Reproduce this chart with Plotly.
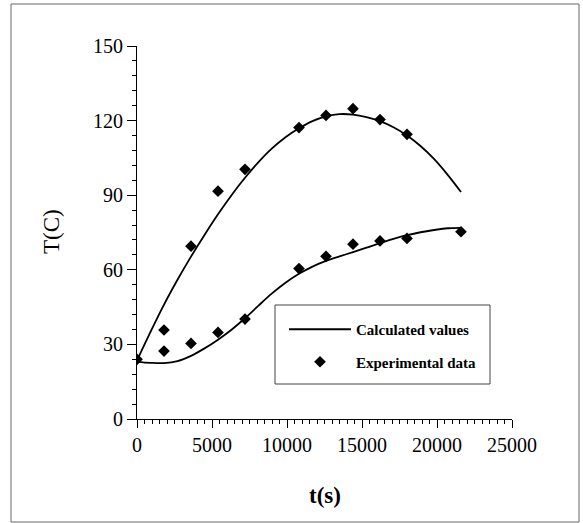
import plotly.graph_objects as go

# ---- data ----
t_calc = [0, 900, 1800, 2700, 3600, 4500, 5400, 6300, 7200, 8100, 9000, 9900,
          10800, 11700, 12600, 13500, 14400, 15300, 16200, 17100, 18000, 18900,
          19800, 20700, 21600]
upper_calc = [23.5, 35, 46, 56, 65.3, 74, 82.3, 90, 97, 103.3, 108.8, 113.3,
              116.9, 119.8, 121.7, 122.6, 122.4, 121.4, 119.8, 117.3, 114, 109.8,
              104.6, 98.3, 91.3]
lower_calc = [23, 22.6, 22.5, 23.3, 25.4, 28.4, 31.9, 35.9, 40.5, 45.6, 50.5, 54.8,
              58.4, 61.3, 63.6, 65.4, 67.1, 68.9, 70.7, 72.4, 73.9, 75.1, 76.0,
              76.7, 76.9]

t_exp_upper = [0, 1800, 3600, 5400, 7200, 10800, 12600, 14400, 16200, 18000]
upper_exp = [24, 35.8, 69.5, 91.6, 100.4, 117.2, 122.1, 124.8, 120.4, 114.5]
t_exp_lower = [1800, 3600, 5400, 7200, 10800, 12600, 14400, 16200, 18000, 21600]
lower_exp = [27.3, 30.4, 34.8, 40.2, 60.5, 65.4, 70.3, 71.6, 72.6, 75.3]

x_ticks = [0, 5000, 10000, 15000, 20000, 25000]
y_ticks = [0, 30, 60, 90, 120, 150]

FONT = "Liberation Serif"
L, R, T, B = 137, 71, 46, 104
W = 583 - L - R
H = 523 - T - B


def px(x):
    return (x - L) / W


def py(y):
    return (523 - B - y) / H


fig = go.Figure()
fig.add_trace(go.Scatter(x=t_calc, y=upper_calc, mode="lines", line_shape="spline",
                         line=dict(color="black", width=1.8), name="Calculated values",
                         legendgroup="a", showlegend=True))
fig.add_trace(go.Scatter(x=t_calc, y=lower_calc, mode="lines", line_shape="spline",
                         line=dict(color="black", width=1.8), name="Calculated values",
                         legendgroup="a", showlegend=False))
fig.add_trace(go.Scatter(x=t_exp_upper, y=upper_exp, mode="markers",
                         marker=dict(symbol="diamond", size=9, color="black"),
                         name="Experimental data", legendgroup="b", showlegend=True))
fig.add_trace(go.Scatter(x=t_exp_lower, y=lower_exp, mode="markers",
                         marker=dict(symbol="diamond", size=9, color="black"),
                         name="Experimental data", legendgroup="b", showlegend=False))

fig.update_layout(
    width=583, height=523,
    margin=dict(l=L, r=R, t=T, b=B, autoexpand=False),
    paper_bgcolor="white", plot_bgcolor="white",
    font=dict(family=FONT, color="black", size=20),
    legend=dict(x=px(284), y=py(313), xanchor="left", yanchor="top",
                bgcolor="rgba(0,0,0,0)", borderwidth=0, itemwidth=62,
                tracegroupgap=10,
                font=dict(family=FONT, size=15, weight="bold", color="black")),
    xaxis=dict(range=[0, 25000], tickvals=x_ticks, ticktext=[str(v) for v in x_ticks],
               showgrid=False, zeroline=False, showline=True, linecolor="black",
               linewidth=1, ticks="outside", ticklen=8, tickcolor="black",
               minor=dict(dtick=500, ticks="outside", ticklen=4, tickcolor="black"),
               tickfont=dict(family=FONT, size=20)),
    yaxis=dict(range=[0, 150], tickvals=y_ticks, ticktext=[str(v) for v in y_ticks],
               showgrid=False, zeroline=False, showline=True, linecolor="black",
               linewidth=1, ticks="outside", ticklen=9, tickcolor="black",
               minor=dict(dtick=6, ticks="outside", ticklen=4, tickcolor="black"),
               tickfont=dict(family=FONT, size=20)),
    shapes=[
        dict(type="rect", xref="paper", yref="paper",
             x0=px(11), x1=px(579), y0=py(522), y1=py(4),
             line=dict(color="#666666", width=1)),
        dict(type="rect", xref="paper", yref="paper",
             x0=px(275), x1=px(490), y0=py(384), y1=py(305),
             line=dict(color="#444444", width=1)),
    ],
    annotations=[
        dict(text="T(C)", xref="paper", yref="paper", x=px(51), y=py(232),
             textangle=-90, showarrow=False, xanchor="center", yanchor="middle",
             font=dict(family=FONT, size=23)),
        dict(text="<b>t(s)</b>", xref="paper", yref="paper", x=px(325), y=py(496),
             showarrow=False, xanchor="center", yanchor="middle",
             font=dict(family=FONT, size=23)),
    ],
)

fig.write_html("out.html")
